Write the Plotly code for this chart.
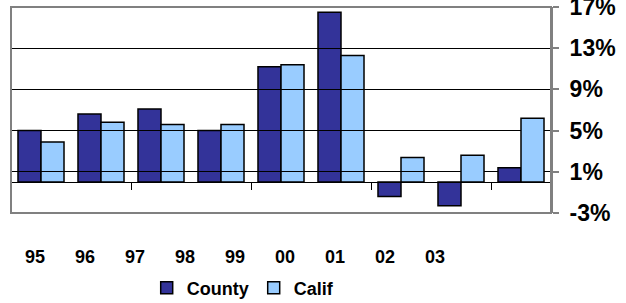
import plotly.graph_objects as go

years = ["95", "96", "97", "98", "99", "00", "01", "02", "03"]
county = [5.0, 6.6, 7.1, 5.0, 11.2, 16.5, -1.4, -2.3, 1.4]
calif = [3.9, 5.8, 5.6, 5.6, 11.4, 12.3, 2.4, 2.6, 6.2]
y_ticks = [-3, 1, 5, 9, 13, 17]
y_labels = ["-3%", "1%", "5%", "9%", "13%", "17%"]

SANS = "Liberation Sans, Arial, sans-serif"

fig = go.Figure()
fig.add_trace(go.Bar(name="County", x=years, y=county,
                     marker=dict(color="#333399", line=dict(color="black", width=1.5))))
fig.add_trace(go.Bar(name="Calif", x=years, y=calif,
                     marker=dict(color="#99CCFF", line=dict(color="black", width=1.5))))
# carrier trace for the offset category label axis
fig.add_trace(go.Scatter(x=years, y=[None] * len(years), xaxis="x2", yaxis="y",
                         showlegend=False, hoverinfo="skip", mode="markers"))

fig.update_layout(
    width=626, height=303,
    margin=dict(l=11, r=75, t=7, b=90, autoexpand=False),
    paper_bgcolor="white", plot_bgcolor="rgba(0,0,0,0)",
    barmode="group", bargap=0.233, bargroupgap=0,
    showlegend=True,
    legend=dict(orientation="h", x=0.43, xanchor="center", y=-0.364, yanchor="middle",
                font=dict(family=SANS, size=18, color="black", weight="bold"),
                itemwidth=30, tracegroupgap=0, bgcolor="rgba(0,0,0,0)"),
    xaxis=dict(type="category", categoryorder="array", categoryarray=years,
               range=[-0.5, 8.5], anchor="free", position=0.15, automargin=False,
               showline=True, linecolor="black", linewidth=1,
               ticks="outside", ticklen=7, tickcolor="black", tickwidth=1,
               tickson="boundaries", tickmode="array", tickvals=years[::2],
               showticklabels=False, showgrid=False, zeroline=False),
    xaxis2=dict(type="category", categoryorder="array", categoryarray=years,
                domain=[0, 0.8315], range=[-0.48, 8.5], anchor="y", side="bottom",
                automargin=False, showline=False, showgrid=False, zeroline=False,
                ticks="outside", ticklen=27, tickcolor="rgba(0,0,0,0)",
                tickfont=dict(family=SANS, size=18, color="black", weight="bold")),
    yaxis=dict(range=[-3, 17], side="right", anchor="x", automargin=False,
               tickmode="array", tickvals=y_ticks, ticktext=y_labels,
               showline=True, linecolor="#808080", linewidth=2,
               ticks="outside", ticklen=6, tickcolor="#808080", tickwidth=1.5,
               showgrid=True, gridcolor="black", gridwidth=1, zeroline=False,
               ticklabelstandoff=6, ticklabeloverflow="allow",
               tickfont=dict(family=SANS, size=23, color="black", weight="bold")),
    font=dict(family=SANS, color="black"),
    shapes=[dict(type="rect", xref="paper", yref="paper", x0=0, x1=1, y0=0, y1=1,
                 line=dict(color="#808080", width=2), fillcolor="rgba(0,0,0,0)", layer="above")],
)

fig.write_html("out.html", config={"displayModeBar": False},
               post_script="document.body.style.margin='0px';document.body.style.overflow='hidden';")
